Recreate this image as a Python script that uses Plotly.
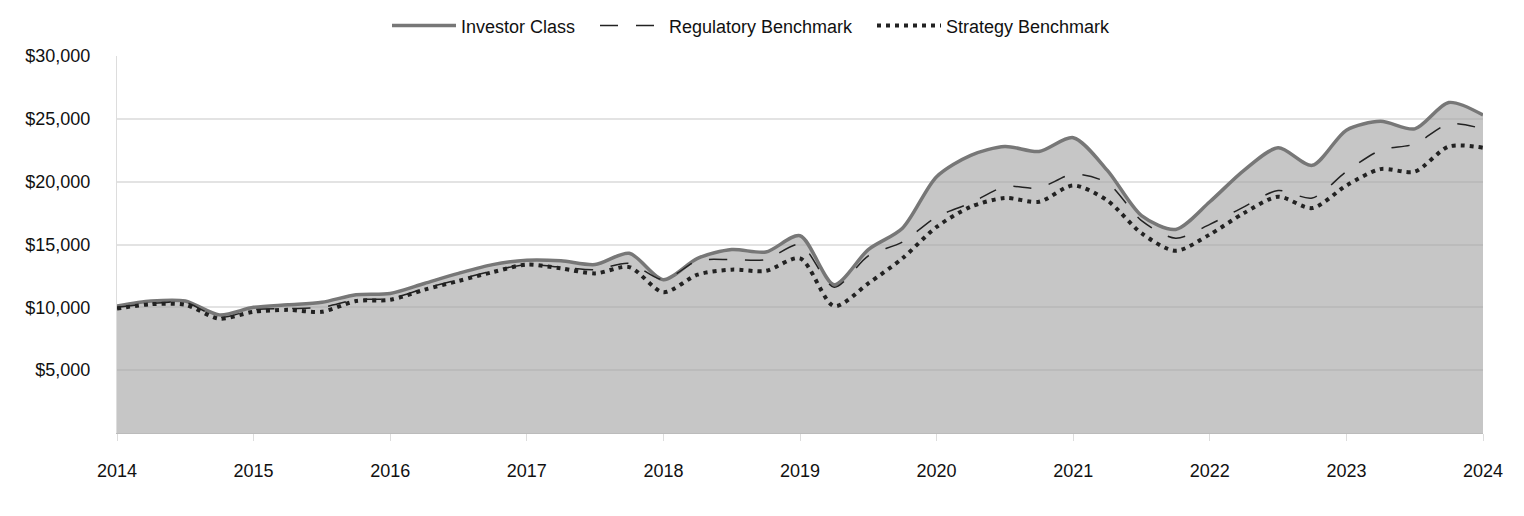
import plotly.graph_objects as go

quarters = [2014 + i * 0.25 for i in range(41)]

investor_class = [
    10100, 10500, 10500, 9400, 10000, 10200, 10400, 11000,
    11100, 11900, 12700, 13400, 13750, 13700, 13400, 14300,
    12200, 13900, 14600, 14400, 15700, 11800, 14600, 16300,
    20400, 22100, 22800, 22400, 23500, 20900, 17300, 16200,
    18400, 20900, 22700, 21300, 24100, 24800, 24200, 26300,
    25300,
]

regulatory_benchmark = [
    10000, 10300, 10400, 9200, 9800, 9900, 10000, 10600,
    10700, 11500, 12200, 12900, 13400, 13200, 13000, 13500,
    12200, 13700, 13800, 13800, 15000, 11600, 14100, 15200,
    17200, 18300, 19600, 19500, 20600, 19900, 16900, 15500,
    16600, 18000, 19300, 18700, 20800, 22500, 23000, 24600,
    24200,
]

strategy_benchmark = [
    9900, 10250, 10200, 9100, 9650, 9800, 9650, 10500,
    10600, 11400, 12100, 12800, 13400, 13100, 12700, 13200,
    11200, 12600, 13000, 12900, 13900, 10100, 11900, 13900,
    16400, 18000, 18700, 18400, 19700, 18500, 15900, 14500,
    15800, 17500, 18800, 17900, 19700, 21000, 20800, 22800,
    22700,
]

series_names = ["Investor Class", "Regulatory Benchmark", "Strategy Benchmark"]
year_ticks = list(range(2014, 2025))
y_ticks = [5000, 10000, 15000, 20000, 25000, 30000]
y_labels = ["$5,000", "$10,000", "$15,000", "$20,000", "$25,000", "$30,000"]

spline = dict(shape="spline", smoothing=0.8)

fig = go.Figure()
# area under the Investor Class line
fig.add_trace(go.Scatter(
    x=quarters, y=investor_class, name=series_names[0], showlegend=False,
    mode="none", line=dict(width=0, **spline),
    fill="tozeroy", fillcolor="rgba(160,160,160,0.6)", hoverinfo="skip",
))
fig.add_trace(go.Scatter(
    x=quarters, y=investor_class, name=series_names[0], legend="legend",
    mode="lines", line=dict(color="#777777", width=3.5, **spline),
))
fig.add_trace(go.Scatter(
    x=quarters, y=regulatory_benchmark, name=series_names[1], legend="legend2",
    mode="lines", line=dict(color="#222222", width=1.5, dash="18px,18px", **spline),
))
fig.add_trace(go.Scatter(
    x=quarters, y=strategy_benchmark, name=series_names[2], legend="legend3",
    mode="lines", line=dict(color="#222222", width=4, dash="4px,5px", **spline),
))

plot_left, plot_w = 109 + 8, 1366
def lx(px):
    return (px - plot_left) / plot_w

leg_common = dict(orientation="h", xanchor="left", y=1.08, yanchor="middle",
                  font=dict(size=18), itemwidth=64, bgcolor="rgba(0,0,0,0)",
                  borderwidth=0)

fig.update_layout(
    width=1524, height=516,
    margin=dict(l=109, r=49, t=48, b=91, autoexpand=False),
    paper_bgcolor="white", plot_bgcolor="white",
    font=dict(family="Liberation Sans, Arial, sans-serif", size=18, color="#111111"),
    showlegend=True,
    legend=dict(x=lx(387), **leg_common),
    legend2=dict(x=lx(595), **leg_common),
    legend3=dict(x=lx(872), **leg_common),
)
fig.update_xaxes(
    range=[2014, 2024], tickvals=year_ticks, ticktext=[str(y) for y in year_ticks],
    showgrid=False, showline=True, linecolor="#bbbbbb", linewidth=1,
    ticks="outside", ticklen=7, tickcolor="#dddddd", tickwidth=1,
    tickfont=dict(size=18), zeroline=False, ticklabelstandoff=14, automargin=False,
)
fig.update_yaxes(
    range=[0, 30000], tickvals=y_ticks, ticktext=y_labels,
    showgrid=True, gridcolor="#e3e3e3", gridwidth=2,
    showline=True, linecolor="#dddddd", linewidth=1,
    ticks="", tickfont=dict(size=18), zeroline=False, ticklabelstandoff=22, automargin=False,
)

fig.write_html("out.html")
